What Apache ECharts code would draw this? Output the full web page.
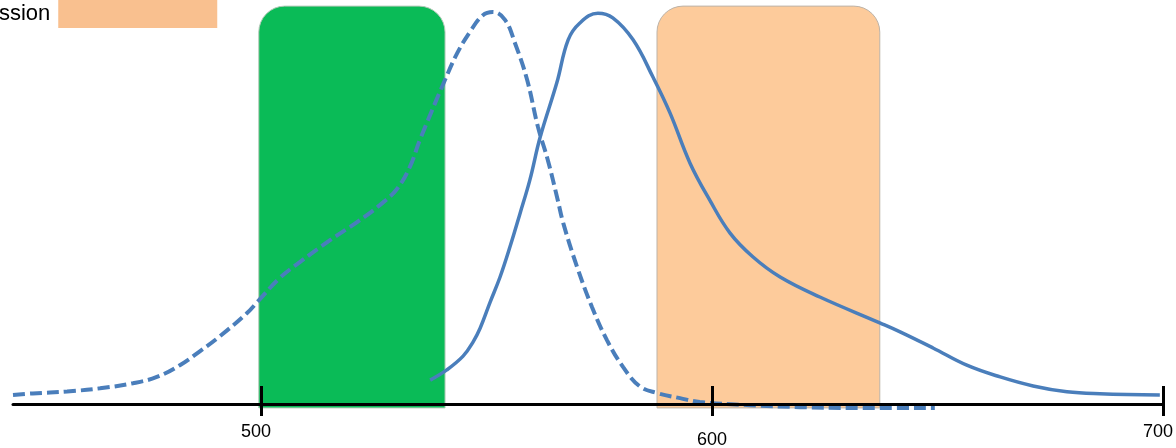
<!DOCTYPE html>
<html>
<head>
<meta charset="utf-8">
<script src="https://cdn.jsdelivr.net/npm/echarts@6/dist/echarts.min.js"></script>
<style>
html,body{margin:0;padding:0;background:#fff;}
#chart{width:1176px;height:448px;}
</style>
</head>
<body>
<div id="chart"></div>
<script>
// ---- data (wavelength, relative intensity) ----
const tickValues = [500, 600, 700];

const excitationX = [445.0, 449.4, 457.0, 464.3, 471.6, 476.9, 482.0, 486.5, 490.9, 496.9, 499.3, 504.2, 508.6, 515.3, 521.3, 526.4, 530.1, 533.0, 535.2, 540.8, 543.5, 546.3, 549.2, 551.4, 554.1, 556.3, 559.0, 561.4, 563.6, 565.8, 567.0, 570.1, 573.4, 576.7, 580.3, 584.0, 587.8, 592.9, 597.3, 608.4, 619.5, 630.6, 649.4];
const excitationY = [0.023, 0.027, 0.032, 0.040, 0.053, 0.069, 0.099, 0.135, 0.173, 0.232, 0.262, 0.322, 0.362, 0.418, 0.464, 0.508, 0.548, 0.605, 0.673, 0.827, 0.895, 0.949, 0.992, 1.000, 0.980, 0.921, 0.827, 0.707, 0.622, 0.520, 0.462, 0.349, 0.247, 0.163, 0.094, 0.045, 0.028, 0.015, 0.005, -0.003, -0.008, -0.010, -0.010];

const emissionX = [537.5, 541.2, 544.8, 547.0, 548.6, 550.8, 553.0, 555.2, 557.4, 559.6, 561.9, 565.6, 568.1, 570.7, 574.7, 578.0, 582.5, 586.9, 590.7, 595.1, 599.5, 604.0, 609.1, 615.1, 623.9, 637.2, 641.7, 649.0, 656.5, 663.9, 671.2, 678.7, 686.0, 699.3];
const emissionY = [0.061, 0.087, 0.122, 0.158, 0.194, 0.260, 0.324, 0.401, 0.485, 0.571, 0.681, 0.820, 0.929, 0.972, 0.997, 0.985, 0.929, 0.834, 0.742, 0.615, 0.520, 0.436, 0.375, 0.324, 0.273, 0.207, 0.184, 0.143, 0.099, 0.069, 0.046, 0.031, 0.026, 0.023];

// filter bands: [start, end, top, bottom]
const excitationBand = [499.5, 540.8, 1.015, -0.010];
const emissionBand = [587.8, 637.2, 1.015, -0.010];

const legendNames = ['Emission'];

// ---- chart ----
const zip = (xs, ys) => xs.map((x, i) => [x, ys[i]]);
const chart = echarts.init(document.getElementById('chart'), null, {renderer: 'canvas'});

function bandRender(fill, stroke) {
  return function (params, api) {
    const p0 = api.coord([api.value(0), api.value(3)]);
    const p1 = api.coord([api.value(1), api.value(2)]);
    return {
      type: 'rect',
      shape: {x: p0[0], y: p1[1], width: p1[0] - p0[0], height: p0[1] - p1[1], r: [26, 26, 0, 0]},
      style: {fill: fill, stroke: stroke, lineWidth: 1}
    };
  };
}

const lineColor = '#4A7EBB';
const font = 'Liberation Sans, Arial, sans-serif';

chart.setOption({
  animation: false,
  backgroundColor: '#ffffff',
  grid: {left: 13, right: 13, top: 12, bottom: 44, containLabel: false, outerBoundsMode: 'none'},
  legend: {
    data: [{name: legendNames[0], itemStyle: {color: '#F9C08F', borderWidth: 0}}],
    left: -39, top: 0, padding: 0,
    align: 'right',
    icon: 'rect',
    itemWidth: 159, itemHeight: 28,
    textStyle: {fontFamily: font, fontSize: 22, color: '#000', padding: [0, 3, 0, 0]}
  },
  xAxis: [
    {
      type: 'value', min: 445, max: 700, position: 'bottom', z: 5,
      splitLine: {show: false},
      axisLine: {show: true, lineStyle: {color: '#000', width: 3}},
      axisTick: {show: true, inside: false, length: 12, customValues: tickValues, lineStyle: {color: '#000', width: 3}},
      axisLabel: {
        show: true, customValues: tickValues, margin: 19,
        formatter: v => (v === 600 ? '{lo|' + v + '}' : '{n|' + v + '}'),
        rich: {
          n: {fontFamily: font, fontSize: 18, color: '#000', padding: [0, 10, 0, 0]},
          lo: {fontFamily: font, fontSize: 18, color: '#000', padding: [8, 0, 0, 0]}
        }
      }
    },
    {
      type: 'value', min: 445, max: 700, position: 'bottom', z: 5,
      splitLine: {show: false},
      axisLine: {show: false},
      axisTick: {show: true, inside: true, length: 18, customValues: tickValues, lineStyle: {color: '#000', width: 3}},
      axisLabel: {show: false}
    }
  ],
  yAxis: {type: 'value', min: 0, max: 1, show: false, splitLine: {show: false}},
  series: [
    {
      name: 'Excitation filter', type: 'custom', z: 1, clip: false,
      renderItem: bandRender('#0ABB57', '#B5C9B9'),
      data: [excitationBand]
    },
    {
      name: 'Emission', type: 'custom', z: 1, clip: false,
      itemStyle: {color: '#F9C08F'},
      renderItem: bandRender('#FDCB9B', '#BDB3A8'),
      data: [emissionBand]
    },
    {
      name: 'Excitation', type: 'line', z: 3, clip: false, smooth: 0.4, showSymbol: false,
      lineStyle: {color: lineColor, width: 4, type: [12, 5]},
      data: zip(excitationX, excitationY)
    },
    {
      name: 'Emission spectrum', type: 'line', z: 3, clip: false, smooth: 0.4, showSymbol: false,
      lineStyle: {color: lineColor, width: 3.5},
      data: zip(emissionX, emissionY)
    }
  ]
});
</script>
</body>
</html>
